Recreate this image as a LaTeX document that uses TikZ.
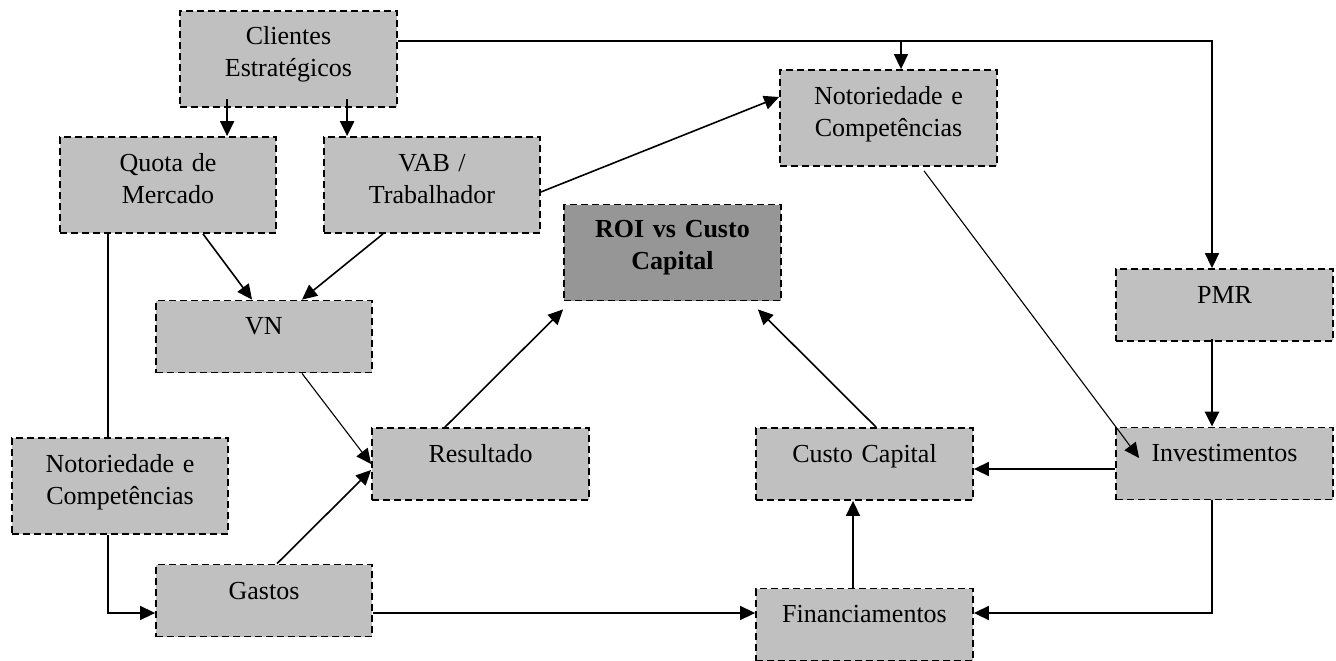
\documentclass[tikz,border=0pt]{standalone}
\usepackage{fontspec}
\setmainfont{Liberation Serif}
\usetikzlibrary{arrows.meta}
\definecolor{boxgray}{HTML}{C0C0C0}
\definecolor{roigray}{HTML}{969696}
\begin{document}
\begin{tikzpicture}[x=1pt,y=-1pt,
  box/.style={draw, line width=1.8pt, dash pattern=on 7pt off 4pt, fill=boxgray, minimum width=216pt, inner sep=0pt},
  tall/.style={box, minimum height=96pt},
  short/.style={box, minimum height=72pt},
  lbl/.style={anchor=base, text width=214pt, align=center, inner sep=0pt, font=\fontsize{26}{32}\selectfont},
  conn/.style={line width=1.6pt, -{Triangle[length=15pt,width=14pt]}},
  thick conn/.style={conn, line width=2.4pt},
  thin conn/.style={conn, line width=1.1pt},
  plain/.style={line width=1.6pt}]
\useasboundingbox (0,0) rectangle (1336,661);

% boxes
\node[tall, minimum width=217pt] (cli) at (288.5,59) {};
\node[tall] (quo) at (168,185) {};
\node[tall] (vab) at (432,185) {};
\node[tall, minimum width=217pt] (not1) at (888.5,118) {};
\node[tall, minimum width=217pt, fill=roigray] (roi) at (672.5,252.5) {};
\node[short, minimum width=217pt] (pmr) at (1224.5,305) {};
\node[short] (vn) at (264,336.5) {};
\node[short, minimum width=217pt] (res) at (480.5,464) {};
\node[short, minimum width=217pt] (cc) at (864.5,464) {};
\node[short, minimum width=217pt] (inv) at (1224.5,463.5) {};
\node[tall] (not2) at (120,486) {};
\node[short] (gas) at (264,600.5) {};
\node[short, minimum width=217pt] (fin) at (864.5,624.5) {};

% labels
\node[lbl] (clit) at ([yshift=-34pt]cli.north) {Clientes\\Estratégicos};
\node[lbl] (quot) at ([yshift=-35pt]quo.north) {Quota de\\Mercado};
\node[lbl] (vabt) at ([yshift=-35pt]vab.north) {VAB /\\Trabalhador};
\node[lbl] (not1t) at ([yshift=-35pt]not1.north) {Notoriedade e\\Competências};
\node[lbl, font=\fontsize{26}{32}\selectfont\bfseries] (roit) at ([yshift=-34pt]roi.north) {ROI vs Custo\\Capital};
\node[lbl] (pmrt) at ([yshift=-35pt]pmr.north) {PMR};
\node[lbl] (vnt) at ([yshift=-35pt]vn.north) {VN};
\node[lbl] (rest) at ([yshift=-35pt]res.north) {Resultado};
\node[lbl] (cct) at ([yshift=-35pt]cc.north) {Custo Capital};
\node[lbl] (invt) at ([yshift=-35pt]inv.north) {Investimentos};
\node[lbl] (not2t) at ([yshift=-35pt]not2.north) {Notoriedade e\\Competências};
\node[lbl] (gast) at ([yshift=-36pt]gas.north) {Gastos};
\node[lbl] (fint) at ([yshift=-35pt]fin.north) {Financiamentos};

% helper coordinates
\coordinate (c1) at ([yshift=18pt]cli.east);
\coordinate (p1) at ([xshift=-12.5pt]pmr.north);
\coordinate (n1) at ([xshift=12.5pt]not1.north);
\coordinate (g1) at ([yshift=-12.5pt]gas.east);
\coordinate (ga) at ([yshift=-12.5pt]gas.west);

% connectors
\draw[conn] ([xshift=48pt,yshift=9pt]cli.south west) -- ([xshift=168pt]quo.north west);
\draw[thick conn] ([xshift=168pt,yshift=9pt]cli.south west) -- ([xshift=24pt]vab.north west);
\draw[conn] (c1) -| (p1);
\draw[conn] (c1 -| n1) -- (n1);
\draw[conn] ([yshift=-7pt]vab.east) -- ([yshift=21pt]not1.west);
\draw[conn] ([xshift=35pt]quo.south) -- ([xshift=-12pt]vn.north);
\draw[conn] ([xshift=-49pt]vab.south) -- ([xshift=38pt]vn.north);
\draw[plain] ([xshift=-60pt]quo.south) -- ([xshift=-12pt]not2.north);
\draw[conn] ([xshift=-12pt]not2.south) |- (ga);
\draw[conn] (g1) -- (g1 -| fin.west);
\draw[conn] ([xshift=-12.5pt]inv.south) |- (g1 -| fin.east);
\draw[conn] ([xshift=-11.5pt]fin.north) -- ([xshift=-11.5pt]cc.south);
\draw[conn] ([yshift=-5.5pt]inv.west) -- ([yshift=-5pt]cc.east);
\draw[thick conn] ([xshift=-12.5pt,yshift=3pt]pmr.south) -- ([xshift=-12.5pt]inv.north);
\draw[thin conn] ([xshift=35.5pt,yshift=-4pt]not1.south) -- ([xshift=24pt,yshift=5.5pt]inv.west);
\draw[thin conn] ([xshift=38pt]vn.south) -- (res.west);
\draw[conn] ([xshift=13pt]gas.north) -- ([yshift=-6pt]res.west);
\draw[conn] ([xshift=-35.5pt]res.north) -- ([yshift=-8pt]roi.south west);
\draw[conn] ([xshift=11.5pt]cc.north) -- ([xshift=-24pt,yshift=-8pt]roi.south east);
\end{tikzpicture}
\end{document}
